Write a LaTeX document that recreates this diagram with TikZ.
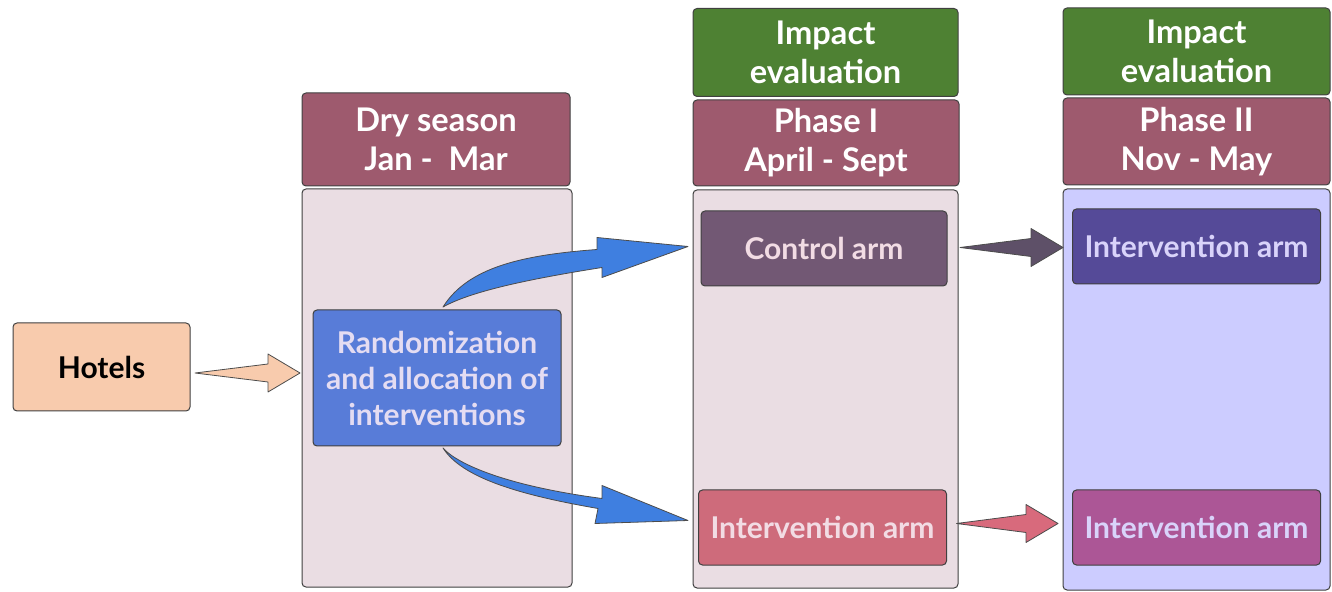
\documentclass[tikz,border=0pt]{standalone}
\usepackage{fontspec}
\setmainfont{Lato}
\usetikzlibrary{calc}

\definecolor{HotelPeach}{HTML}{F8CBAD}
\definecolor{SeasonMauve}{HTML}{9E5A6E}
\definecolor{EvalGreen}{HTML}{4E8133}
\definecolor{PanelPink}{HTML}{EADDE3}
\definecolor{PanelLavender}{HTML}{CCCCFF}
\definecolor{RandomBlue}{HTML}{587CD8}
\definecolor{ControlPlum}{HTML}{725874}
\definecolor{ArmRose}{HTML}{CE6B7B}
\definecolor{ArmIndigo}{HTML}{554A98}
\definecolor{ArmMagenta}{HTML}{AC5696}
\definecolor{ArrowBlue}{HTML}{3F7FE0}
\definecolor{ArrowPlum}{HTML}{5E5068}
\definecolor{ArrowRose}{HTML}{D86A7C}
\definecolor{TextPink}{HTML}{F2DCE4}
\definecolor{TextLilac}{HTML}{E4DCF2}
\definecolor{TextLavender}{HTML}{D9D3FA}

\tikzset{
    box/.style={draw=black!75, line width=0.5pt, rounded corners=2pt,
        inner sep=0pt, outer sep=0pt, align=center,
        font=\fontsize{15}{18}\selectfont\bfseries},
    head/.style={box, text=white, minimum width=133pt, minimum height=44pt,
        font=\fontsize{16.3}{19.5}\selectfont\bfseries},
    panel/.style={box, minimum width=134pt, minimum height=199pt},
    arm/.style={box, minimum width=124pt, minimum height=37.5pt},
    blockarrow/.style={draw=black!70, line width=0.4pt, line join=round},
}

% straight block arrow: colour, tail, tip
\newcommand{\flatarrow}[3]{%
    \filldraw[blockarrow, fill=#1] (#2) -- ($(#3)+(-32,-9)$) -- ($(#3)+(-32,-19)$)
        -- (#3) -- ($(#3)+(-32,19)$) -- ($(#3)+(-32,9)$) -- cycle;}

\begin{document}
\begin{tikzpicture}[x=0.5pt, y=-0.5pt]
    \useasboundingbox (0,0) rectangle (1332,592);

    % column panels
    \node[panel, fill=PanelPink, minimum width=135pt] (col1) at (437,388) {};
    \node[panel, fill=PanelPink, minimum width=132.5pt] (col2) at (825.5,389) {};
    \node[panel, fill=PanelLavender, minimum width=133.5pt, minimum height=200.5pt] (col3) at (1196.5,389.5) {};

    % headers
    \node[head, fill=SeasonMauve, minimum width=134pt, minimum height=46.5pt] (season) at (436,139.5) {Dry season\\Jan -~ Mar};
    \node[head, fill=EvalGreen, minimum width=132.5pt] (eval1) at (825.5,52.5) {Impact\\evaluation};
    \node[head, fill=SeasonMauve, minimum height=43pt] (phase1) at (826,143) {Phase I\\April - Sept};
    \node[head, fill=EvalGreen, minimum width=133.5pt, minimum height=43.5pt] (eval2) at (1196.5,51.5) {Impact\\evaluation};
    \node[head, fill=SeasonMauve, minimum width=133.5pt, minimum height=43.5pt] (phase2) at (1196.5,141.5) {Phase II\\Nov - May};

    % boxes
    \node[box, fill=HotelPeach, minimum width=88.5pt, minimum height=44pt] (hotels) at (101.5,367) {Hotels};
    \node[box, fill=RandomBlue, text=TextLilac, minimum width=124pt, minimum height=68pt] (rand) at (437,378) {Randomization\\and allocation of\\interventions};
    \node[arm, fill=ControlPlum, minimum width=123pt, text=TextPink] (ctrl) at (824,248.5) {Control arm};
    \node[arm, fill=ArmRose, text=TextPink] (int1) at (822.5,527.5) {Intervention arm};
    \node[arm, fill=ArmIndigo, text=TextLavender] (int2) at (1196.5,246.5) {Intervention arm};
    \node[arm, fill=ArmMagenta, text=TextLavender] (int3) at (1196.5,527.5) {Intervention arm};

    % arrow ends
    \coordinate (hTail) at ($(hotels.east)+(5,6)$);
    \coordinate (hTip) at ($(col1.west |- hTail)+(-2,0)$);
    \coordinate (cTail) at ($(ctrl.east)+(13,-1)$);
    \coordinate (cTip) at (col3.west |- cTail);
    \coordinate (iTail) at ($(int1.east)+(10,-4)$);
    \coordinate (iTip) at ($(col3.west |- iTail)+(-5,0)$);
    \coordinate (upTail) at ($(rand.north)+(6,-3)$);
    \coordinate (upTip) at ($(col2.west |- ctrl.west)+(-5,-2)$);
    \coordinate (dnTail) at ($(rand.south)+(6,2)$);
    \coordinate (dnTip) at ($(col2.west |- int1.west)+(-5,-7)$);

    \flatarrow{HotelPeach}{hTail}{hTip}
    \flatarrow{ArrowPlum}{cTail}{cTip}
    \flatarrow{ArrowRose}{iTail}{iTip}

    % curved arrows out of the randomization
    \filldraw[blockarrow, fill=ArrowBlue] (upTail)
        .. controls ($(upTail)+(25,-40)$) and ($(upTail)+(80,-52)$) .. ($(upTip)+(-91,3)$)
        -- ($(upTip)+(-91,-9)$) -- (upTip) -- ($(upTip)+(-86,31)$) -- ($(upTip)+(-86,21)$)
        .. controls ($(upTail)+(80,-27)$) and ($(upTail)+(27,-15)$) .. (upTail) -- cycle;
    \filldraw[blockarrow, fill=ArrowBlue] (dnTail)
        .. controls ($(dnTail)+(12,14)$) and ($(dnTail)+(57,37)$) .. ($(dnTip)+(-86,-22)$)
        -- ($(dnTip)+(-86,-35)$) -- (dnTip) -- ($(dnTip)+(-93,3)$) -- ($(dnTip)+(-90,-12)$)
        .. controls ($(dnTail)+(77,47)$) and ($(dnTail)+(19,30)$) .. (dnTail) -- cycle;
\end{tikzpicture}
\end{document}
